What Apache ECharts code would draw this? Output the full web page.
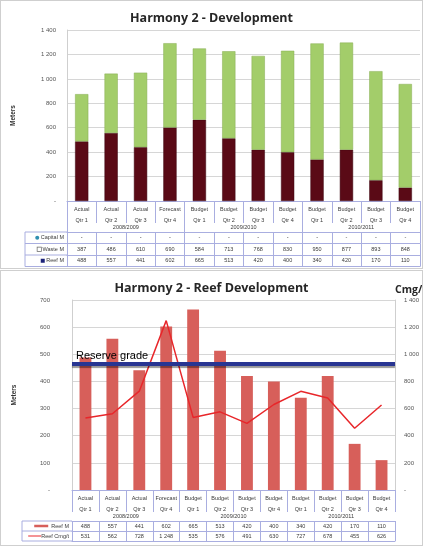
<!DOCTYPE html>
<html>
<head>
<meta charset="utf-8">
<script src="https://cdn.jsdelivr.net/npm/echarts@6/dist/echarts.min.js"></script>
<style>
  html, body { margin: 0; padding: 0; background: #fff; }
  .panel { position: absolute; left: 0; width: 423px; box-sizing: border-box; border: 1px solid #cfcfcf; }
  #top { top: 0; height: 269px; }
  #bot { top: 270px; height: 276px; }
</style>
</head>
<body>
<div id="top" class="panel"></div>
<div id="bot" class="panel"></div>
<script>
// chart data
const categories = ['Actual\nQtr 1', 'Actual\nQtr 2', 'Actual\nQtr 3', 'Forecast\nQtr 4',
  'Budget\nQtr 1', 'Budget\nQtr 2', 'Budget\nQtr 3', 'Budget\nQtr 4',
  'Budget\nQtr 1', 'Budget\nQtr 2', 'Budget\nQtr 3', 'Budget\nQtr 4'];
const years = ['2008/2009', '2009/2010', '2010/2011'];
const capitalM = [null, null, null, null, null, null, null, null, null, null, null, null];
const wasteM = [387, 486, 610, 690, 584, 713, 768, 830, 950, 877, 893, 848];
const reefM = [488, 557, 441, 602, 665, 513, 420, 400, 340, 420, 170, 110];
const reefGrade = [531, 562, 728, 1248, 535, 576, 491, 630, 727, 678, 455, 626];
const reserveGrade = 930;

const lineCol = '#a9aee0';
const txtCol = '#3a3a3a';

// "1 400" style numbers, "-" for zero / empty
const fmt = v => (v === null || v === 0) ? '-' : String(v).replace(/\B(?=(\d{3})+(?!\d))/g, ' ');

// one row of the data table under the plot, drawn as an extra category axis
const tableAxis = (data, offset, h, name, rich) => ({
  type: 'category',
  data: data,
  position: 'bottom',
  offset: offset,
  axisLine: { show: true, lineStyle: { color: lineCol, width: 1 } },
  axisTick: { show: true, length: h, interval: 0, lineStyle: { color: lineCol } },
  axisLabel: { interval: 0, fontSize: 5.5, color: txtCol, margin: (h - 6) / 2 },
  splitLine: { show: false },
  name: name,
  nameLocation: 'start',
  nameGap: 3,
  nameTextStyle: { fontSize: 5.5, color: txtCol, verticalAlign: 'top', padding: [(h - 6) / 2, 0, 0, 0], rich: rich }
});

const catAxis = (h) => ({
  type: 'category',
  data: categories,
  position: 'bottom',
  axisLine: { show: true, lineStyle: { color: lineCol } },
  axisTick: { show: true, length: h, interval: 0, lineStyle: { color: lineCol } },
  axisLabel: { interval: 0, fontSize: 5.5, lineHeight: 11, color: txtCol, margin: 3 }
});

const yearAxis = (offset, h) => ({
  type: 'category',
  data: years,
  position: 'bottom',
  offset: offset,
  axisLine: { show: false },
  axisTick: { show: true, length: h, interval: 0, lineStyle: { color: lineCol } },
  axisLabel: { interval: 0, fontSize: 5.5, color: txtCol, margin: 1 }
});

const lastLine = (offset) => ({
  type: 'category', data: categories, position: 'bottom', offset: offset,
  axisLine: { show: true, lineStyle: { color: lineCol } },
  axisTick: { show: false }, axisLabel: { show: false }
});

// left header column of a table (borders only)
const headerBox = (x0, x1, ys) => {
  const els = ys.map(y => ({
    type: 'line', shape: { x1: x0, y1: y, x2: x1, y2: y }, style: { stroke: lineCol, lineWidth: 1 }
  }));
  els.push({ type: 'line', shape: { x1: x0, y1: ys[0], x2: x0, y2: ys[ys.length - 1] }, style: { stroke: lineCol, lineWidth: 1 } });
  return els;
};

// ---------- top: Harmony 2 - Development ----------
const topChart = echarts.init(document.getElementById('top'));
const tH = 267, tBottom = 67, tAxisY = tH - tBottom;
const tRows = [31, 42.5, 54, 65.5];
topChart.setOption({
  animation: false,
  title: {
    text: 'Harmony 2 - Development', left: 'center', top: 6,
    textStyle: { fontFamily: 'Open Sans', fontWeight: 'bold', fontSize: 12.5, color: '#262626' }
  },
  grid: { left: 66, right: 2, top: 29, bottom: tBottom, outerBoundsMode: 'none' },
  xAxis: [
    catAxis(22),
    yearAxis(22, 9),
    tableAxis(capitalM.map(fmt), tRows[0], tRows[1] - tRows[0], '{dot|} Capital M',
      { dot: { width: 4, height: 4, borderRadius: 2, backgroundColor: '#2f8fb0' } }),
    tableAxis(wasteM.map(fmt), tRows[1], tRows[2] - tRows[1], '{hol|} Waste M',
      { hol: { width: 3.5, height: 3.5, borderColor: '#666', borderWidth: 0.7, backgroundColor: '#fff' } }),
    tableAxis(reefM.map(fmt), tRows[2], tRows[3] - tRows[2], '{sq|} Reef M',
      { sq: { width: 4, height: 4, backgroundColor: '#1c237a' } }),
    lastLine(tRows[3])
  ],
  yAxis: {
    type: 'value', min: 0, max: 1400, interval: 200,
    name: 'Meters', nameLocation: 'middle', nameGap: 50,
    nameTextStyle: { fontSize: 6.5, fontWeight: 'bold', color: '#333' },
    axisLine: { show: true, lineStyle: { color: '#cfcfcf' } },
    axisTick: { show: false },
    axisLabel: { fontSize: 6, color: '#555', margin: 11, formatter: fmt },
    splitLine: { lineStyle: { color: '#d6d6d6' } }
  },
  graphic: headerBox(24, 66, tRows.map(r => tAxisY + r)),
  series: [
    { name: 'Reef M', type: 'bar', stack: 'm', data: reefM, barWidth: '45%',
      itemStyle: { color: '#5a0a16', borderColor: '#3d0610', borderWidth: 0.5 } },
    { name: 'Waste M', type: 'bar', stack: 'm', data: wasteM, barWidth: '45%',
      itemStyle: { color: '#a3cd6a', borderColor: '#86ad52', borderWidth: 0.5 } },
    { name: 'Capital M', type: 'bar', stack: 'm', data: capitalM, barWidth: '45%',
      itemStyle: { color: '#2f8fb0' } }
  ]
});

// ---------- bottom: Harmony 2 - Reef Development ----------
const botChart = echarts.init(document.getElementById('bot'));
const bH = 274, bBottom = 55, bAxisY = bH - bBottom;
const bRows = [31, 41, 51];
botChart.setOption({
  animation: false,
  title: {
    text: 'Harmony 2 - Reef Development', left: 'center', top: 6,
    textStyle: { fontFamily: 'Open Sans', fontWeight: 'bold', fontSize: 12.5, color: '#262626' }
  },
  grid: { left: 71, right: 27, top: 29, bottom: bBottom, outerBoundsMode: 'none' },
  xAxis: [
    catAxis(22),
    yearAxis(22, 9),
    tableAxis(reefM.map(fmt), bRows[0], bRows[1] - bRows[0], '{thick|}  Reef M',
      { thick: { width: 14, height: 2.5, backgroundColor: '#d75f5a' } }),
    tableAxis(reefGrade.map(fmt), bRows[1], bRows[2] - bRows[1], '{thin|}Reef Cmg/t',
      { thin: { width: 13, height: 1, backgroundColor: '#e8262a' } }),
    lastLine(bRows[2])
  ],
  graphic: headerBox(21, 71, bRows.map(r => bAxisY + r)),
  yAxis: [
    {
      type: 'value', min: 0, max: 700, interval: 100,
      name: 'Meters', nameLocation: 'middle', nameGap: 54,
      nameTextStyle: { fontSize: 6.5, fontWeight: 'bold', color: '#333' },
      axisLine: { show: true, lineStyle: { color: '#cfcfcf' } },
      axisTick: { show: false },
      axisLabel: { fontSize: 6, color: '#555', margin: 22, formatter: fmt },
      splitLine: { lineStyle: { color: '#d6d6d6' } }
    },
    {
      type: 'value', min: 0, max: 1400, interval: 200, position: 'right',
      name: 'Cmg/t', nameLocation: 'end', nameGap: 4,
      nameTextStyle: { fontFamily: 'Open Sans', fontSize: 10.5, fontWeight: 'bold', color: '#262626', align: 'left' },
      axisLine: { show: true, lineStyle: { color: '#cfcfcf' } },
      axisTick: { show: false },
      axisLabel: { fontSize: 6, color: '#555', margin: 9, formatter: fmt },
      splitLine: { show: false }
    }
  ],
  series: [
    { name: 'Reef M', type: 'bar', data: reefM, barWidth: '44%',
      itemStyle: { color: '#d75f5a' } },
    { name: 'Reef Cmg/t', type: 'line', yAxisIndex: 1, data: reefGrade,
      symbol: 'none', lineStyle: { color: '#e8262a', width: 1.5 },
      markLine: {
        silent: true, symbol: 'none',
        lineStyle: { color: '#283592', width: 4, type: 'solid', shadowColor: 'rgba(0,0,0,0.4)', shadowOffsetY: 2, shadowBlur: 1 },
        label: { show: true, position: 'insideStartTop', formatter: 'Reserve grade', distance: [4, 2],
          fontFamily: 'Liberation Sans', fontSize: 11, color: '#000' },
        data: [{ yAxis: reserveGrade }]
      } }
  ]
});
</script>
</body>
</html>
